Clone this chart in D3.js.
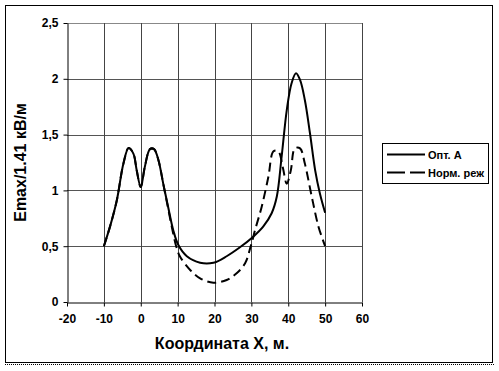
<!DOCTYPE html>
<html>
<head>
<meta charset="utf-8">
<script src="https://cdn.jsdelivr.net/npm/d3@7"></script>
<style>
  body { margin: 0; background: #fff; }
  text { font-family: "Liberation Sans", Arial, sans-serif; font-weight: bold; }
</style>
</head>
<body>
<script>
// series data
const optX = [-10, -8.3, -6.5, -4.7, -3.3, -2.0, -1.1, 0, 1.1, 2.5, 3.6, 4.8, 6.1, 7.5, 8.8, 10.2, 12.5, 16.1, 19.7, 23.3, 26.9, 30.5, 33.2, 35.5, 36.9, 38.2, 39.6, 40.9, 42.1, 43.2, 44.5, 45.9, 47.3, 48.6, 50];
const optY = [0.5, 0.68, 0.91, 1.24, 1.38, 1.33, 1.18, 1.03, 1.21, 1.37, 1.37, 1.27, 1.06, 0.84, 0.645, 0.51, 0.41, 0.352, 0.352, 0.41, 0.49, 0.585, 0.675, 0.795, 0.945, 1.3, 1.72, 1.96, 2.05, 1.99, 1.81, 1.51, 1.18, 0.97, 0.8];

const normX = [-10, -8.3, -6.5, -4.7, -3.3, -2.0, -1.1, 0, 1.1, 2.5, 3.6, 4.8, 6.1, 7.3, 8.5, 9.6, 10.6, 13.4, 16.1, 19.7, 23.3, 26.0, 28.3, 29.8, 31.0, 32.8, 34.6, 36.0, 37.3, 38.5, 39.6, 40.7, 41.8, 43.2, 44.5, 46.4, 48.2, 50];
const normY = [0.5, 0.68, 0.91, 1.24, 1.38, 1.33, 1.18, 1.03, 1.21, 1.37, 1.37, 1.27, 1.06, 0.86, 0.66, 0.5, 0.41, 0.287, 0.212, 0.173, 0.197, 0.257, 0.347, 0.496, 0.645, 0.854, 1.12, 1.35, 1.35, 1.21, 1.06, 1.18, 1.377, 1.377, 1.24, 0.94, 0.675, 0.5];

const xTicks = [-20, -10, 0, 10, 20, 30, 40, 50, 60];
const yTicks = [0, 0.5, 1, 1.5, 2, 2.5];
const seriesNames = ["Опт. А", "Норм. реж"];

const width = 499, height = 371;
const svg = d3.select("body").append("svg")
  .attr("width", width)
  .attr("height", height);

// outer frame
svg.append("rect")
  .attr("x", 5.5).attr("y", 5.5)
  .attr("width", 487).attr("height", 357)
  .attr("fill", "none").attr("stroke", "#000");
svg.append("line")
  .attr("x1", 5).attr("x2", 494).attr("y1", 364.5).attr("y2", 364.5)
  .attr("stroke", "#000").attr("stroke-dasharray", "1,1");

const x = d3.scaleLinear().domain([-20, 60]).range([67, 362]);
const y = d3.scaleLinear().domain([0, 2.5]).range([302, 23]);

// grid
svg.append("g").selectAll("line")
  .data(yTicks.filter(d => d > 0))
  .enter().append("line")
  .attr("x1", x(-20)).attr("x2", x(60))
  .attr("y1", d => Math.round(y(d)) + 0.5).attr("y2", d => Math.round(y(d)) + 0.5)
  .attr("stroke", d => d === 2.5 ? "#888" : "#555");
svg.append("g").selectAll("line")
  .data(xTicks.filter(d => d > -20))
  .enter().append("line")
  .attr("x1", d => Math.round(x(d)) + 0.5).attr("x2", d => Math.round(x(d)) + 0.5)
  .attr("y1", y(0)).attr("y2", y(2.5))
  .attr("stroke", "#444");

// axes
const xAxis = svg.append("g")
  .attr("transform", `translate(0,${Math.round(y(0)) + 0.5})`)
  .call(d3.axisBottom(x).tickValues(xTicks).tickSize(4).tickSizeOuter(0)
    .tickFormat(d => d < 0 ? "-" + Math.abs(d) : d));
const yAxis = svg.append("g")
  .attr("transform", `translate(${Math.round(x(-20)) + 0.5},0)`)
  .call(d3.axisLeft(y).tickValues(yTicks).tickSize(4).tickSizeOuter(0)
    .tickFormat(d => String(d).replace(".", ",")));
[xAxis, yAxis].forEach(a => {
  a.select(".domain").attr("stroke", "#000");
  a.selectAll(".tick line").attr("stroke", "#000");
  a.selectAll(".tick text").attr("fill", "#000").style("font-size", "12px");
});
xAxis.selectAll(".tick text").attr("dy", "1.15em");
yAxis.selectAll(".tick text").attr("x", -9);

// axis titles
svg.append("text")
  .attr("x", 222).attr("y", 349)
  .attr("text-anchor", "middle")
  .style("font-size", "16px")
  .text("Координата X, м.");
svg.append("text")
  .attr("transform", `translate(26,${y(1.25)}) rotate(-90)`)
  .attr("text-anchor", "middle")
  .style("font-size", "16px")
  .text("Emax/1.41 кВ/м");

// curves
const line = d3.line()
  .x(d => x(d[0])).y(d => y(d[1]))
  .curve(d3.curveCatmullRom.alpha(0.5));

svg.append("path")
  .datum(d3.zip(normX, normY))
  .attr("d", line)
  .attr("fill", "none").attr("stroke", "#000")
  .attr("stroke-width", 2).attr("stroke-dasharray", "9,5");
svg.append("path")
  .datum(d3.zip(optX, optY))
  .attr("d", line)
  .attr("fill", "none").attr("stroke", "#000")
  .attr("stroke-width", 2);

// legend
const lg = svg.append("g");
lg.append("rect")
  .attr("x", 382.5).attr("y", 143.5)
  .attr("width", 106).attr("height", 40)
  .attr("fill", "#fff").attr("stroke", "#000");
seriesNames.forEach((name, i) => {
  const ly = 154.5 + i * 18;
  lg.append("line")
    .attr("x1", 387).attr("x2", 425).attr("y1", ly).attr("y2", ly)
    .attr("stroke", "#000").attr("stroke-width", 2)
    .attr("stroke-dasharray", i === 1 ? "18,5" : null);
  lg.append("text")
    .attr("x", 428).attr("y", ly + 4)
    .style("font-size", "11px")
    .text(name);
});
</script>
</body>
</html>
